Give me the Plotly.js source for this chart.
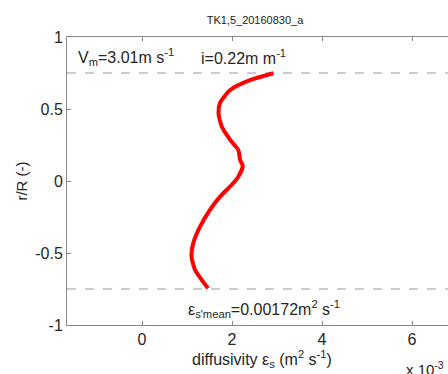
<!DOCTYPE html>
<html><head><meta charset="utf-8">
<script src="https://cdn.plot.ly/plotly-3.0.1.min.js"></script>
<style>html,body{margin:0;padding:0;overflow:hidden;background:#fff}#c{width:470px;height:374px}</style>
</head><body><div id="c"></div>
<script>
// diffusivity in units of 1e-3 m^2 s^-1
var diffusivity = [2.92, 2.40, 1.96, 1.73, 1.70, 1.77, 1.96, 2.14, 2.18, 2.24, 2.14, 1.99, 1.73, 1.51, 1.29, 1.14, 1.10, 1.18, 1.33, 1.47];
var radius = [0.748, 0.70, 0.632, 0.54, 0.47, 0.38, 0.285, 0.215, 0.146, 0.104, 0.03, -0.028, -0.11, -0.20, -0.317, -0.43, -0.526, -0.618, -0.688, -0.745];
var boundsY = [0.75, -0.75];
var xRange = [-1.667, 7];
var xTicks = [0, 2, 4, 6];
var yTicks = [-1, -0.5, 0, 0.5, 1];
var yTickText = ['-1', '-0.5', '0', '0.5', '1'];

var traces = [];
boundsY.forEach(function(b){
  traces.push({x: xRange, y: [b, b], mode: 'lines', line: {color: '#999', width: 1.2, dash: 'dash'}, hoverinfo: 'skip', showlegend: false});
});
traces.push({x: diffusivity, y: radius, mode: 'lines', line: {color: '#ff0000', width: 4, shape: 'spline', smoothing: 0.6}, showlegend: false});

var f = 'Liberation Sans, Arial, sans-serif';
var W = 390, H = 288, L = 67, T = 37;
function px(x){ return (x - L) / W; }
function py(y){ return 1 - (y - T) / H; }
var layout = {
  width: 470, height: 374,
  margin: {l: 67, r: 13, t: 37, b: 49},
  paper_bgcolor: '#fff', plot_bgcolor: '#fff',
  font: {family: f, size: 16, color: '#262626'},
  title: {text: 'TK1,5_20160830_a', font: {family: f, size: 11, color: '#222'}, x: 255/470, xanchor: 'center', y: 1 - 20/374, yanchor: 'middle'},
  xaxis: {range: xRange, tickvals: xTicks, ticktext: xTicks.map(String), showgrid: false, zeroline: false,
    showline: true, mirror: 'ticks', linecolor: '#888', linewidth: 1, ticks: 'inside', ticklen: 4, tickcolor: '#888',
    tickfont: {size: 16, color: '#262626'},
    title: {text: 'diffusivity ε<sub>s</sub> (m<sup>2</sup> s<sup>-1</sup>)', font: {size: 16, color: '#262626'}, standoff: 3}},
  yaxis: {range: [-1, 1], tickvals: yTicks, ticktext: yTickText, showgrid: false, zeroline: false,
    showline: true, mirror: 'ticks', linecolor: '#888', linewidth: 1, ticks: 'inside', ticklen: 4, tickcolor: '#888',
    tickfont: {size: 16, color: '#262626'},
    title: {text: 'r/R (-)', font: {size: 15, color: '#262626'}, standoff: 3}},
  annotations: [
    {xref: 'paper', yref: 'paper', x: px(76), y: py(57), xanchor: 'left', yanchor: 'middle', showarrow: false,
     text: 'V<sub>m</sub>=3.01m s<sup>-1</sup>', font: {size: 16, color: '#262626'}},
    {xref: 'paper', yref: 'paper', x: px(199), y: py(57), xanchor: 'left', yanchor: 'middle', showarrow: false,
     text: 'i=0.22m m<sup>-1</sup>', font: {size: 16, color: '#262626'}},
    {xref: 'paper', yref: 'paper', x: px(186), y: py(309), xanchor: 'left', yanchor: 'middle', showarrow: false,
     text: 'ε<sub>s\'mean</sub>=0.00172m<sup>2</sup> s<sup>-1</sup>', font: {size: 16, color: '#262626'}},
    {xref: 'paper', yref: 'paper', x: px(404), y: py(368), xanchor: 'left', yanchor: 'middle', showarrow: false,
     text: 'x 10<sup>-3</sup>', font: {size: 15, color: '#262626'}}
  ]
};
Plotly.newPlot('c', traces, layout, {displayModeBar: false, staticPlot: true});
</script></body></html>
